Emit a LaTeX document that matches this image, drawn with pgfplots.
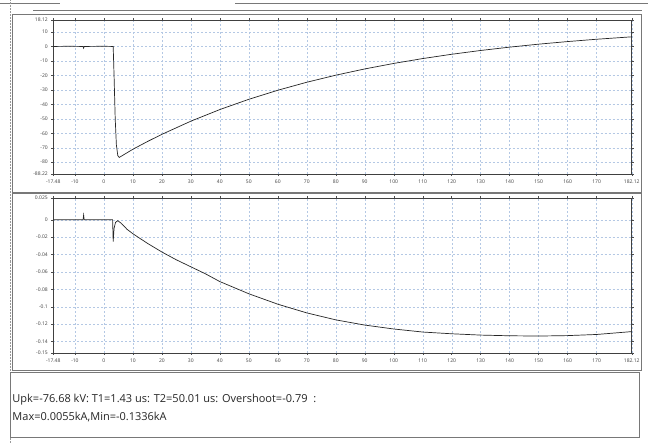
\documentclass[border=0pt]{standalone}
\usepackage{fontspec}
\setmainfont{Open Sans}
\usepackage{pgfplots}
\pgfplotsset{compat=1.18}
\definecolor{gridc}{RGB}{180,200,228}
\definecolor{framec}{RGB}{120,120,120}
\pgfplotsset{
  scopestyle/.style={
    scale only axis,
    width=579pt,
    axis line style={black!75, line width=0.6pt},
    tick align=outside,
    major tick length=2pt,
    tick style={black!70, line width=0.4pt},
    tick label style={font=\fontsize{5}{6}\selectfont, text=black!75},
    grid=major,
    major grid style={gridc, line width=0.35pt, dash pattern=on 2pt off 2pt},
    xmin=-17.48, xmax=182.12,
    xtick={-17.48,-10,0,10,20,30,40,50,60,70,80,90,100,110,120,130,140,150,160,170,182.12},
    xticklabels={-17.48,-10,0,10,20,30,40,50,60,70,80,90,100,110,120,130,140,150,160,170,182.12},
    clip=true,
  }
}
\begin{document}
\begin{tikzpicture}
\path[fill=white] (0pt,0pt) rectangle (648pt,443pt);
% window decorations
\draw[framec, line width=0.6pt] (0pt,440pt) -- (60pt,440pt);
\draw[framec, line width=0.6pt] (235pt,440pt) -- (648pt,440pt);
\draw[black!40, densely dotted, line width=0.5pt] (10pt,0pt) -- (10pt,443pt);
\draw[framec, line width=0.8pt] (12pt,429pt) rectangle (642pt,251pt);
\draw[framec, line width=0.5pt] (33pt,433pt) -- (642pt,433pt);
\draw[framec, line width=0.8pt] (12pt,250pt) rectangle (642pt,73pt);
\draw[framec, line width=0.8pt] (10pt,71pt) rectangle (640pt,5pt);
% top axis (voltage)
\begin{axis}[scopestyle, at={(53pt,269pt)}, anchor=south west, height=154pt,
  ymin=-88.22, ymax=18.12,
  ytick={-88.22,-80,-70,-60,-50,-40,-30,-20,-10,0,10,18.12},
  yticklabels={-88.22,-80,-70,-60,-50,-40,-30,-20,-10,0,10,18.12}]
\addplot[black!85, line width=0.7pt] coordinates {
(-17.48,0) (-12,0.1) (-7.2,0) (-7,-1.2) (-6.8,0) (0,0.1) (3.2,0) (3.5,-20) (3.9,-50) (4.3,-68) (4.8,-75.5) (5.3,-76.7)
(10,-71.05) (15,-65.75) (20,-60.75) (30,-51.66) (40,-43.62) (50,-36.54) (60,-30.28) (70,-24.75) (80,-19.87) (90,-15.55)
(100,-11.75) (110,-8.38) (120,-5.41) (130,-2.79) (140,-0.48) (150,1.57) (160,3.37) (170,4.97) (182.12,6.65)};
\end{axis}
% bottom axis (current)
\begin{axis}[scopestyle, at={(53pt,90pt)}, anchor=south west, height=155pt,
  ymin=-0.153, ymax=0.025,
  ytick={-0.153,-0.14,-0.12,-0.1,-0.08,-0.06,-0.04,-0.02,0,0.025},
  yticklabels={-0.15,-0.14,-0.12,-0.1,-0.08,-0.06,-0.04,-0.02,0,0.025}]
\addplot[black!85, line width=0.7pt] coordinates {
(-17.48,0) (-7.2,0) (-7,0.0055) (-6.8,0) (3.0,0) (3.2,-0.025) (3.5,-0.01) (4,-0.003) (4.8,-0.001) (6,-0.004) (8,-0.011)
(10,-0.016) (15,-0.027) (20,-0.037) (25,-0.046) (30,-0.054) (35,-0.062) (40,-0.071) (45,-0.078) (50,-0.085) (55,-0.091)
(60,-0.097) (65,-0.102) (70,-0.107) (75,-0.111) (80,-0.115) (90,-0.121) (100,-0.1255) (110,-0.129) (120,-0.131)
(130,-0.1325) (140,-0.1333) (150,-0.1336) (160,-0.1331) (170,-0.1318) (182.12,-0.1285)};
\end{axis}
% info text
\node[anchor=west, inner sep=0pt, font=\fontsize{11}{13}\selectfont, text=black!85] at (12pt,43pt) {Upk=-76.68 kV: T1=1.43 us: T2=50.01 us: Overshoot=-0.79\ \ :};
\node[anchor=west, inner sep=0pt, font=\fontsize{11}{13}\selectfont, text=black!85] at (12pt,26pt) {Max=0.0055kA,Min=-0.1336kA};
\end{tikzpicture}
\end{document}
